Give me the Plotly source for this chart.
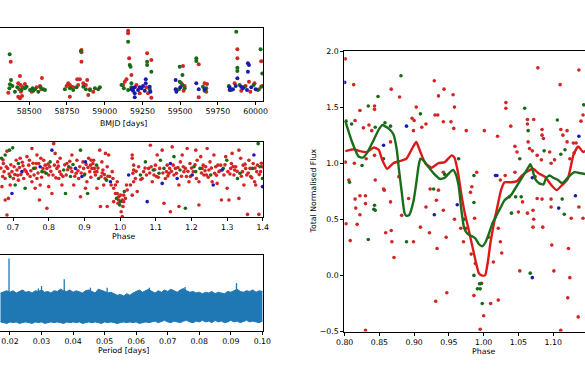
import plotly.graph_objects as go

W, H = 585, 390
RED = '#d42424'
GREEN = '#176b17'
BLUE = '#1a1ab0'
PGRAM = '#1f77b4'
FONT = dict(family='DejaVu Sans', size=7.8, color='black')

# ---------------- top panel: flux vs BMJD (day, flux) ----------------
TOP_RED = [(58377, 4.35), (58438, 2.58), (58584, 2.34), (58361, 0.53), (58427, 1.68), (58443, 1.47),
           (58456, 1.19), (58434, 0.94), (58445, 0.65), (58427, 0.03), (58438, -0.17), (58452, 0.12),
           (58471, 1.60), (58516, 0.65), (58549, 1.19), (58571, 1.35), (58582, 0.94), (58846, 5.79),
           (58846, 5.50), (58846, 4.35), (58818, 2.17), (58835, 2.17), (58884, 2.09), (58758, 1.68),
           (58769, 1.47), (58747, 1.35), (58780, 1.27), (58791, 1.19), (58824, 1.47), (58858, 1.68),
           (58875, 1.47), (58902, 0.94), (58769, 0.03), (58891, 0.24), (58924, 0.65), (59155, 8.17),
           (59155, 7.84), (59162, 4.76), (59133, 1.88), (59144, 2.17), (59122, 1.47), (59177, 2.71),
           (59281, 5.38), (59309, 4.56), (59309, -0.09), (59210, 1.47), (59232, 0.45), (59276, 1.19),
           (59287, 0.45), (59519, 3.82), (59508, 1.68), (59530, 1.35), (59523, 0.77), (59623, 4.02),
           (59623, -0.05), (59662, 1.68), (59678, 1.60), (59673, 0.65), (59879, 5.87), (59879, 4.76),
           (59861, 1.68), (59905, 0.77), (59934, 1.35), (59965, 0.65), (59993, 1.68), (60022, 0.94),
           (60044, 1.35), (59956, 1.88), (60037, 4.40)]
TOP_GREEN = [(58370, 5.25), (58379, 2.09), (58372, 1.56), (58388, 1.35), (58368, 1.06), (58405, 0.65),
             (58421, 1.19), (58449, 0.86), (58471, 1.06), (58482, 1.27), (58505, 0.86), (58522, 1.06),
             (58527, 0.77), (58538, 0.94), (58560, 0.65), (58575, 1.19), (58593, 0.94), (58604, 0.86),
             (58842, 5.67), (58736, 0.94), (58769, 1.06), (58791, 0.86), (58813, 1.19), (58858, 1.27),
             (58875, 0.94), (58902, 0.86), (58935, 1.06), (58957, 0.94), (58968, 1.19), (59155, 6.82),
             (59166, 3.94), (59171, 3.73), (59111, 1.47), (59127, 1.06), (59155, 0.86), (59177, 1.19),
             (59281, 4.35), (59281, 3.94), (59309, 3.12), (59177, 1.68), (59298, 0.94), (59497, 3.73),
             (59515, 2.71), (59497, 1.88), (59515, 1.47), (59530, 1.06), (59492, 0.94), (59607, 4.76),
             (59607, 4.43), (59651, 1.27), (59673, 1.06), (59662, 0.77), (59872, 8.05), (59879, 3.61),
             (59879, 3.20), (60033, 5.87), (59823, 1.35), (59839, 0.86), (59894, 1.47), (59927, 1.27),
             (59987, 1.47), (60015, 0.86), (60037, 1.27), (60044, 2.90)]
TOP_BLUE = [(59199, -0.05), (59177, 0.94), (59188, 1.06), (59199, 1.19), (59221, 0.86), (59243, 1.06),
            (59254, 1.35), (59265, 0.77), (59272, 2.17), (59272, 1.68), (59232, 1.19), (59199, 0.45),
            (59188, 0.77), (59298, 1.27), (59303, 0.65), (59470, 2.09), (59470, 0.94), (59475, 0.65),
            (59501, 1.19), (59607, 1.68), (59623, 0.94), (59662, 0.94), (59879, 2.29), (59949, 4.14),
            (59956, 3.94), (59949, 3.12), (59828, 1.19), (59850, 0.94), (59868, 1.35), (59916, 1.06),
            (59943, 0.86), (59971, 1.19), (60000, 0.94), (59905, 1.27), (59828, 0.86)]
TOP_TICKS = [58500, 58750, 59000, 59250, 59500, 59750, 60000]

# ---------------- middle panel: flux vs phase (phase, flux) ----------------
MID_RED = [(0.683, 1.72), (0.673, 1.34), (0.685, 1.19), (0.697, 1.09), (0.671, 0.94), (0.678, 0.88),
           (0.701, 0.88), (0.711, 1.14), (0.720, 1.50), (0.715, 0.83), (0.692, 0.68), (0.687, 0.27),
           (0.678, 0.22), (0.669, 0.63), (0.683, -0.24), (0.730, 0.88), (0.739, 1.55), (0.744, 1.29),
           (0.748, 0.94), (0.753, 1.80), (0.753, 0.78), (0.767, 1.60), (0.772, 1.34), (0.767, 0.88),
           (0.762, 0.58), (0.774, 0.22), (0.776, 0.68), (0.786, 1.44), (0.790, 1.29), (0.795, 1.19),
           (0.800, 0.99), (0.814, 1.95), (0.818, 1.65), (0.800, 0.63), (0.809, 0.42), (0.795, -0.03),
           (0.823, 1.19), (0.828, 0.88), (0.832, 1.50), (0.837, 0.68), (0.851, 1.34), (0.865, 1.60),
           (0.865, 1.09), (0.870, 0.68), (0.879, 1.44), (0.884, 0.88), (0.889, 0.32), (0.898, 1.19),
           (0.903, 0.58), (0.907, 0.78), (0.912, 1.50), (0.917, 1.29), (0.921, 1.19), (0.926, 1.44),
           (0.931, 0.99), (0.935, 0.58), (0.935, 1.09), (0.943, 1.75), (0.945, 0.02), (0.949, 1.39),
           (0.954, 0.68), (0.959, 1.65), (0.964, 1.24), (0.964, 0.02), (0.968, 1.60), (0.978, 1.09),
           (0.982, 0.58), (0.987, 0.42), (0.992, 0.78), (0.996, 0.22), (1.001, 0.37), (1.003, -0.14),
           (1.006, -0.29), (1.010, 0.17), (1.015, 0.27), (1.020, 0.53), (1.029, 0.68), (1.034, 1.50),
           (1.038, 0.78), (1.038, 1.14), (0.992, 0.42), (0.996, 0.32), (1.006, 0.22), (0.994, 0.12),
           (0.987, 0.68), (0.982, 0.17), (1.010, 0.37), (1.018, 0.68), (1.008, 0.02), (0.675, 1.09),
           (0.681, 1.24), (0.703, 1.24), (0.709, 1.44), (0.722, 1.00), (0.728, 1.27), (0.737, 1.09),
           (0.746, 1.44), (0.759, 0.99), (0.765, 1.34), (0.778, 1.50), (0.784, 1.19), (0.803, 1.24),
           (0.812, 0.99), (0.816, 1.29), (0.825, 1.39), (0.831, 1.09), (0.840, 0.94), (0.849, 0.99),
           (0.859, 1.41), (0.877, 1.04), (0.887, 1.24), (0.896, 1.39), (0.905, 1.31), (0.915, 1.09),
           (0.919, 1.44), (0.924, 1.34), (0.928, 1.19), (0.947, 0.94), (0.952, 1.14), (0.956, 1.00),
           (0.971, 0.94), (0.975, 0.68), (0.980, 0.88),
           (1.034, 1.60), (1.038, 1.29), (1.043, 0.88), (1.048, 0.48), (1.034, 0.37), (1.066, 1.09),
           (1.080, 1.19), (1.085, 1.90), (1.090, 0.78), (1.095, 0.99), (1.099, 1.29), (1.104, 1.60),
           (1.118, 1.75), (1.123, 0.12), (1.127, 0.88), (1.132, 1.29), (1.137, 1.04), (1.141, -0.14),
           (1.146, 1.85), (1.151, 0.99), (1.155, 1.19), (1.165, 0.68), (1.165, 0.02), (1.169, 1.39),
           (1.174, 1.60), (1.179, 1.09), (1.183, 1.19), (1.188, 1.80), (1.193, 0.78), (1.197, 0.94),
           (1.212, 1.75), (1.216, 1.44), (1.221, 0.07), (1.221, 0.78), (1.226, 1.55), (1.230, 1.19),
           (1.235, 0.99), (1.240, 1.24), (1.244, 1.80), (1.249, 1.14), (1.258, 0.78), (1.263, 1.60),
           (1.268, 1.24), (1.272, 0.73), (1.277, 1.09), (1.282, 1.29), (1.284, 0.22), (1.291, 0.99),
           (1.296, 1.55), (1.300, 0.58), (1.305, 0.22), (1.310, 1.19), (1.314, 1.65), (1.319, 0.99),
           (1.324, 1.24), (1.333, 1.75), (1.333, 0.27), (1.338, 1.50), (1.343, 1.09), (1.347, 0.68),
           (1.352, 1.19), (1.357, -0.22), (1.361, 1.44), (1.366, 0.94), (1.377, 0.78), (1.380, 0.68),
           (1.385, 1.29), (1.389, -0.22), (1.394, 1.09), (1.398, 1.24), (1.036, 1.04), (1.052, 1.24),
           (1.062, 0.88), (1.074, 0.99), (1.087, 1.24), (1.102, 0.94), (1.111, 1.19), (1.130, 1.09),
           (1.139, 1.19), (1.149, 1.29), (1.158, 1.04), (1.177, 1.24), (1.186, 0.94), (1.196, 1.34),
           (1.205, 1.09), (1.214, 0.88), (1.233, 1.29), (1.242, 0.99), (1.252, 1.39), (1.265, 1.04),
           (1.274, 1.29), (1.302, 1.09), (1.312, 1.34), (1.321, 1.14), (1.345, 1.29), (1.355, 0.99),
           (1.364, 1.19), (1.373, 1.34), (1.383, 1.09)]
MID_RED_BAND = [(0.666, 1.20), (0.672, 1.45), (0.689, 1.02), (0.694, 1.30), (0.705, 1.00), (0.713, 0.98),
                (0.718, 1.22), (0.726, 1.38), (0.733, 1.15), (0.741, 1.02), (0.750, 1.12), (0.756, 1.35),
                (0.763, 1.20), (0.770, 1.05), (0.780, 0.92), (0.788, 1.08), (0.798, 1.32), (0.806, 1.10),
                (0.820, 0.90), (0.827, 1.26), (0.835, 1.00), (0.845, 1.30), (0.853, 1.15), (0.862, 1.20),
                (0.873, 0.95), (0.882, 1.12), (0.891, 1.05), (0.901, 1.02), (0.910, 1.22), (0.918, 0.92),
                (0.929, 1.08), (0.938, 1.20), (0.950, 1.05), (0.958, 0.88), (0.966, 0.95), (1.045, 1.10),
                (1.058, 0.85), (1.070, 1.20), (1.083, 1.05), (1.097, 1.15), (1.107, 0.92), (1.120, 1.05),
                (1.134, 0.96), (1.144, 1.10), (1.162, 1.22), (1.172, 0.95), (1.190, 1.10), (1.200, 1.20),
                (1.210, 1.30), (1.228, 1.05), (1.238, 1.12), (1.247, 0.92), (1.256, 1.20), (1.270, 0.98),
                (1.280, 1.12), (1.294, 1.30), (1.308, 1.02), (1.317, 1.25), (1.328, 1.10), (1.340, 0.95),
                (1.350, 1.32), (1.359, 1.05), (1.369, 0.90), (1.378, 1.20), (1.390, 1.00), (1.396, 1.35)]
MID_GREEN = [(0.668, 1.50), (0.678, 1.60), (0.690, 1.75), (0.699, 1.82), (0.692, 0.94), (0.715, 1.34),
             (0.706, 0.68), (0.734, 0.58), (0.758, 1.19), (0.781, 1.09), (0.804, 1.39), (0.842, 1.14),
             (0.847, 0.42), (0.856, 1.24), (0.861, 0.94), (0.889, 1.75), (0.909, 0.42), (0.940, 0.88),
             (0.990, 0.27), (0.999, 0.07), (1.001, 0.17), (1.012, 0.48), (0.793, 1.04), (0.868, 1.31),
             (0.900, 0.99), (0.934, 1.29), (0.962, 0.83), (1.057, 0.99), (1.071, 1.39), (1.109, 1.04),
             (1.113, 1.44), (1.123, 1.19), (1.151, 1.55), (1.183, -0.03), (1.207, 1.24), (1.212, 1.09),
             (1.254, 0.99), (1.299, 1.44), (1.329, 0.88), (1.371, 1.19), (1.387, 1.95), (1.399, 0.88),
             (1.093, 1.14), (1.168, 1.14), (1.224, 1.19), (1.289, 1.19), (1.336, 1.04), (1.392, 1.24)]
MID_BLUE = [(0.725, 1.09), (0.697, 0.42), (0.776, 1.24), (0.809, 1.75), (0.875, 1.19), (0.893, 0.94),
            (0.903, 1.39), (0.973, 0.78), (1.024, 0.99), (1.076, 0.17), (1.118, 0.73), (1.141, 1.34),
            (1.160, 0.88), (1.202, 0.99), (1.261, 0.68), (1.286, 1.14), (1.375, 1.60), (1.399, 0.63)]
MID_TICKS = [0.7, 0.8, 0.9, 1.0, 1.1, 1.2, 1.3, 1.4]

# ---------------- bottom panel: periodogram (period, upper, lower) ----------------
PGRAM_BAND = [
    (0.017, 0.50, 0.12), (0.018, 0.52, 0.11), (0.019, 0.53, 0.10), (0.020, 0.51, 0.12), (0.021, 0.53, 0.11),
    (0.022, 0.50, 0.12), (0.023, 0.52, 0.10), (0.024, 0.54, 0.11), (0.025, 0.51, 0.12), (0.026, 0.52, 0.11),
    (0.027, 0.50, 0.10), (0.028, 0.53, 0.12), (0.029, 0.52, 0.11), (0.030, 0.54, 0.12), (0.031, 0.51, 0.10),
    (0.032, 0.52, 0.11), (0.033, 0.50, 0.12), (0.034, 0.53, 0.11), (0.035, 0.52, 0.12), (0.036, 0.55, 0.11),
    (0.037, 0.53, 0.10), (0.038, 0.52, 0.12), (0.039, 0.54, 0.11), (0.040, 0.51, 0.12), (0.041, 0.53, 0.11),
    (0.042, 0.52, 0.12), (0.043, 0.50, 0.10), (0.044, 0.53, 0.11), (0.045, 0.54, 0.12), (0.046, 0.52, 0.11),
    (0.047, 0.50, 0.12), (0.048, 0.55, 0.11), (0.049, 0.54, 0.10), (0.050, 0.52, 0.12), (0.051, 0.50, 0.11),
    (0.052, 0.51, 0.12), (0.053, 0.49, 0.11), (0.054, 0.47, 0.10), (0.055, 0.48, 0.11), (0.056, 0.46, 0.12),
    (0.057, 0.49, 0.11), (0.058, 0.47, 0.12), (0.059, 0.50, 0.11), (0.060, 0.52, 0.12), (0.061, 0.54, 0.10),
    (0.062, 0.51, 0.11), (0.063, 0.53, 0.12), (0.064, 0.55, 0.11), (0.065, 0.52, 0.12), (0.066, 0.50, 0.13),
    (0.067, 0.53, 0.11), (0.068, 0.51, 0.12), (0.069, 0.54, 0.14), (0.070, 0.52, 0.12), (0.071, 0.55, 0.11),
    (0.072, 0.53, 0.13), (0.073, 0.51, 0.12), (0.074, 0.54, 0.11), (0.075, 0.56, 0.13), (0.076, 0.53, 0.14),
    (0.077, 0.51, 0.12), (0.078, 0.52, 0.11), (0.079, 0.50, 0.13), (0.080, 0.51, 0.12), (0.081, 0.49, 0.14),
    (0.082, 0.51, 0.12), (0.083, 0.50, 0.13), (0.084, 0.52, 0.11), (0.085, 0.49, 0.14), (0.086, 0.51, 0.12),
    (0.087, 0.50, 0.13), (0.088, 0.49, 0.11), (0.089, 0.52, 0.12), (0.090, 0.51, 0.14), (0.091, 0.53, 0.12),
    (0.092, 0.55, 0.13), (0.093, 0.52, 0.11), (0.094, 0.51, 0.12), (0.095, 0.53, 0.14), (0.096, 0.52, 0.12),
    (0.097, 0.54, 0.13), (0.098, 0.51, 0.12), (0.099, 0.53, 0.11), (0.100, 0.52, 0.13)]
PGRAM_SPIKES = [(0.0197, 0.955), (0.0290, 0.56), (0.0300, 0.59), (0.0372, 0.68), (0.0455, 0.57),
                (0.0508, 0.57), (0.0642, 0.57), (0.0755, 0.58), (0.0918, 0.63)]
PGRAM_TICKS = [0.02, 0.03, 0.04, 0.05, 0.06, 0.07, 0.08, 0.09, 0.10]

# ---------------- right panel: total normalised flux vs phase ----------------
R_RED = [(0.801, 1.93), (0.813, 1.70), (0.822, 1.47), (0.827, 1.315), (0.843, 1.51), (0.843, 1.48),
         (0.867, 1.66), (0.879, 1.59), (0.815, 1.38), (0.835, 1.34), (0.839, 1.29), (0.897, 1.40),
         (0.900, 1.38), (0.903, 1.50), (0.911, 1.32), (0.917, 1.35), (0.929, 1.735), (0.935, 1.60),
         (0.943, 1.66), (0.956, 1.61), (0.958, 1.50), (0.930, 1.43), (0.934, 1.43), (0.942, 1.37),
         (0.953, 1.37), (0.957, 1.31), (0.801, 1.01), (0.814, 1.00), (0.831, 1.04), (0.843, 1.07),
         (0.866, 1.19), (0.806, 0.85), (0.815, 0.68), (0.822, 0.71), (0.830, 0.64), (0.844, 0.85),
         (0.856, 0.77), (0.857, 0.76), (0.802, 0.46), (0.808, 0.31), (0.818, 0.455), (0.859, 0.38),
         (0.867, 0.40), (0.868, 0.30), (0.871, 0.16), (0.866, 0.655), (0.878, 0.88), (0.882, 0.535),
         (0.892, 0.685), (0.899, 0.30), (0.909, 0.43), (0.917, 0.61), (0.922, 0.38), (0.932, 0.67),
         (0.933, 0.24), (0.931, -0.23), (0.942, 0.58), (0.946, 0.34), (0.947, -0.155), (0.958, 0.50),
         (0.967, 0.42), (0.971, 0.30), (0.923, 0.77), (0.935, 0.76), (0.942, 0.92), (0.830, -0.49),
         (0.899, 1.29), (0.816, 0.60), (0.822, 0.54), (0.830, 0.71),
         (1.078, 1.85), (1.137, 1.83), (1.110, 1.70), (1.032, 1.54), (1.032, 1.49), (1.063, 1.39),
         (1.063, 1.35), (1.072, 1.39), (1.039, 1.33), (0.975, 1.29), (1.001, 1.29), (1.020, 1.24),
         (1.084, 1.30), (1.084, 1.25), (1.086, 1.22), (1.111, 1.30), (1.120, 1.29), (1.114, 1.25),
         (1.120, 1.19), (1.129, 1.18), (1.133, 1.18), (1.140, 1.375), (1.143, 1.43), (1.064, 1.19),
         (1.066, 1.13), (1.070, 1.11), (1.077, 1.07), (1.083, 1.03), (1.095, 1.10), (1.097, 1.00),
         (1.102, 1.03), (1.124, 1.04), (1.130, 1.09), (1.045, 1.15), (1.048, 1.10), (1.024, 0.85),
         (1.031, 0.89), (1.045, 0.92), (0.990, 0.92), (0.983, 0.79), (0.981, 0.74), (0.987, 0.51),
         (1.074, 0.88), (1.037, 0.70), (1.050, 0.565), (1.056, 0.655), (1.063, 0.555), (1.071, 0.58),
         (1.077, 0.685), (1.072, 0.50), (1.071, 0.43), (1.085, 0.43), (1.084, 0.68), (1.097, 0.61),
         (1.097, 0.68), (1.126, 0.51), (1.137, 0.61), (1.021, 0.42), (1.024, 0.30), (1.026, 0.20),
         (1.017, 0.52), (1.014, 0.12), (0.975, 0.42), (0.982, 0.19), (0.988, 0.105), (0.986, -0.18),
         (1.000, -0.36), (0.995, -0.48), (1.010, -0.25), (1.021, -0.22), (0.997, -0.07), (1.007, 0.34),
         (1.098, 0.27), (1.052, 0.04), (1.101, 0.04), (1.124, -0.02), (1.121, -0.20), (1.136, -0.37),
         (1.111, -0.49), (1.122, 0.24), (1.143, 0.51)]
R_GREEN = [(0.802, 1.375), (0.834, 1.51), (0.848, 1.595), (0.881, 1.78), (0.844, 1.32), (0.858, 1.36),
           (0.866, 1.33), (0.909, 1.44), (0.825, 0.98), (0.856, 1.04), (0.807, 0.83), (0.843, 0.625),
           (0.834, 0.32), (0.842, 0.59), (0.889, 0.30), (0.928, 0.77), (0.944, 0.90), (0.964, 1.04),
           (0.810, 1.35), (0.844, 0.58), (1.059, 1.49), (1.064, 1.29), (1.106, 1.385), (1.087, 1.11),
           (1.111, 1.08), (1.117, 1.12), (1.052, 1.04), (0.986, 0.89), (0.986, 0.65), (1.046, 0.70),
           (1.054, 0.70), (1.040, 0.555), (1.113, 0.68), (1.116, 0.545), (0.986, 0.0), (0.994, -0.075),
           (0.996, -0.075), (0.991, -0.12), (0.995, -0.12), (0.998, -0.25), (1.067, 0.02), (0.972, 0.50),
           (1.144, 1.52)]
R_BLUE = [(0.800, 1.72), (0.856, 1.16), (0.889, 1.33), (0.929, 0.54), (0.962, 0.63), (1.017, 0.89),
          (1.019, 0.89), (1.070, 0.87), (1.108, 0.60), (1.132, 0.71), (1.137, 1.24), (1.070, -0.02)]
R_RED_LINE = [(0.801, 1.107), (0.813, 1.125), (0.822, 1.107), (0.832, 1.10), (0.842, 1.14), (0.849, 1.12),
              (0.854, 1.03), (0.861, 0.95), (0.870, 1.00), (0.880, 1.02), (0.889, 1.04), (0.897, 1.13),
              (0.903, 1.19), (0.909, 1.10), (0.916, 1.00), (0.925, 0.96), (0.935, 1.00), (0.944, 1.01),
              (0.954, 1.07), (0.958, 1.05), (0.963, 0.92), (0.968, 0.72), (0.973, 0.55), (0.978, 0.42),
              (0.983, 0.28), (0.988, 0.14), (0.993, 0.02), (0.997, 0.0), (1.002, 0.0), (1.006, 0.12),
              (1.010, 0.30), (1.015, 0.47), (1.020, 0.62), (1.025, 0.76), (1.030, 0.83), (1.040, 0.83),
              (1.048, 0.84), (1.055, 0.89), (1.064, 0.93), (1.071, 0.95), (1.079, 0.91), (1.088, 0.88),
              (1.098, 0.80), (1.105, 0.76), (1.112, 0.80), (1.121, 0.86), (1.129, 1.07), (1.136, 1.15),
              (1.143, 1.10), (1.150, 1.12)]
R_GREEN_LINE = [(0.801, 1.375), (0.810, 1.20), (0.820, 1.06), (0.826, 1.05), (0.832, 1.09), (0.842, 1.21),
                (0.849, 1.30), (0.854, 1.34), (0.863, 1.31), (0.870, 1.26), (0.875, 1.12), (0.878, 0.95),
                (0.882, 0.75), (0.886, 0.56), (0.889, 0.53), (0.893, 0.54), (0.899, 0.66), (0.903, 0.82),
                (0.906, 0.96), (0.909, 1.04), (0.914, 1.02), (0.920, 0.97), (0.928, 0.91), (0.937, 0.86),
                (0.944, 0.87), (0.950, 0.91), (0.956, 0.94), (0.960, 0.90), (0.964, 0.80), (0.968, 0.58),
                (0.972, 0.42), (0.977, 0.37), (0.983, 0.35), (0.988, 0.33), (0.993, 0.28), (0.998, 0.26),
                (1.003, 0.30), (1.008, 0.38), (1.013, 0.47), (1.018, 0.53), (1.024, 0.60), (1.030, 0.67),
                (1.036, 0.70), (1.040, 0.72), (1.045, 0.77), (1.052, 0.84), (1.058, 0.90), (1.064, 0.96),
                (1.067, 0.99), (1.070, 0.95), (1.074, 0.86), (1.080, 0.82), (1.086, 0.81), (1.090, 0.87),
                (1.095, 0.89), (1.100, 0.87), (1.107, 0.85), (1.113, 0.82), (1.118, 0.85), (1.124, 0.89),
                (1.131, 0.92), (1.140, 0.91), (1.150, 0.90)]
R_XTICKS = [0.80, 0.85, 0.90, 0.95, 1.00, 1.05, 1.10, 1.15]
R_YTICKS = [-0.5, 0.0, 0.5, 1.0, 1.5, 2.0]


def cols(pairs):
    return [p[0] for p in pairs], [p[1] for p in pairs]


fig = go.Figure()


def scatter(pairs, col, size, xa, ya):
    x, y = cols(pairs)
    fig.add_trace(go.Scatter(x=x, y=y, mode='markers', xaxis=xa, yaxis=ya,
                             marker=dict(color=col, size=size, line=dict(width=0)),
                             showlegend=False, hoverinfo='skip'))


for pts, c in ((TOP_RED, RED), (TOP_GREEN, GREEN), (TOP_BLUE, BLUE)):
    scatter(pts, c, 4, 'x', 'y')
for pts, c in ((MID_RED + MID_RED_BAND, RED), (MID_GREEN, GREEN), (MID_BLUE, BLUE)):
    scatter(pts, c, 3.6, 'x2', 'y2')

# periodogram band
per = [b[0] for b in PGRAM_BAND]
up = [b[1] for b in PGRAM_BAND]
lo = [b[2] for b in PGRAM_BAND]
fig.add_trace(go.Scatter(x=per, y=lo, mode='lines', line=dict(color=PGRAM, width=1),
                         xaxis='x3', yaxis='y3', showlegend=False, hoverinfo='skip'))
fig.add_trace(go.Scatter(x=per, y=up, mode='lines', line=dict(color=PGRAM, width=1),
                         fill='tonexty', fillcolor=PGRAM,
                         xaxis='x3', yaxis='y3', showlegend=False, hoverinfo='skip'))
sx, sy = [], []
for p, v in PGRAM_SPIKES:
    sx += [p, p, None]
    sy += [0.45, v, None]
fig.add_trace(go.Scatter(x=sx, y=sy, mode='lines', line=dict(color=PGRAM, width=1.3),
                         xaxis='x3', yaxis='y3', showlegend=False, hoverinfo='skip'))

for pts, c in ((R_RED, RED), (R_GREEN, GREEN), (R_BLUE, BLUE)):
    scatter(pts, c, 3.6, 'x4', 'y4')
for pts, c in ((R_RED_LINE, '#dd1a1a'), (R_GREEN_LINE, '#1a6e1a')):
    x, y = cols(pts)
    fig.add_trace(go.Scatter(x=x, y=y, mode='lines', line=dict(color=c, width=2.4, shape='spline', smoothing=0.5),
                             xaxis='x4', yaxis='y4', showlegend=False, hoverinfo='skip'))

LEFT_DOM = [0, 263 / W]
common_x = dict(showline=True, linecolor='black', linewidth=1, mirror=True, ticks='outside', ticklen=3,
                tickcolor='black', tickwidth=1, showgrid=False, zeroline=False, tickfont=FONT,
                automargin=False)
left_y = dict(showline=True, linecolor='black', linewidth=1, side='right', ticks='', showticklabels=False,
              showgrid=False, zeroline=False, automargin=False)


def ydom(top, bot):
    return [1 - bot / H, 1 - top / H]


fig.update_layout(
    width=W, height=H, margin=dict(l=0, r=0, t=0, b=0, pad=0, autoexpand=False),
    paper_bgcolor='white', plot_bgcolor='white', font=FONT,
    xaxis=dict(domain=LEFT_DOM, range=[58306, 60049], tickvals=TOP_TICKS,
               ticktext=[str(t) for t in TOP_TICKS], anchor='y', **common_x),
    yaxis=dict(domain=ydom(28, 101), range=[-0.5, 8.5], anchor='x', **left_y),
    xaxis2=dict(domain=LEFT_DOM, range=[0.6635, 1.4005], tickvals=MID_TICKS,
                ticktext=['%.1f' % t for t in MID_TICKS], anchor='y2', **common_x),
    yaxis2=dict(domain=ydom(142, 217), range=[-0.3, 2.0], anchor='x2', **left_y),
    xaxis3=dict(domain=LEFT_DOM, range=[0.01684, 0.1002], tickvals=PGRAM_TICKS,
                ticktext=['%.2f' % t for t in PGRAM_TICKS], anchor='y3', **common_x),
    yaxis3=dict(domain=ydom(255, 331), range=[0, 1], anchor='x3', **left_y),
    xaxis4=dict(domain=[344.3 / W, 1], range=[0.7995, 1.1458], tickvals=R_XTICKS,
                ticktext=['%.2f' % t for t in R_XTICKS], anchor='y4', **common_x),
    yaxis4=dict(domain=ydom(51, 331.5), range=[-0.5, 2.0], tickvals=R_YTICKS,
                ticktext=[('\u2212%.1f' % -t) if t < 0 else '%.1f' % t for t in R_YTICKS],
                anchor='x4', showline=True, linecolor='black', linewidth=1, ticks='outside', ticklen=3,
                tickcolor='black', showgrid=False, zeroline=False, tickfont=FONT, automargin=False),
)

for text, px, py, ang in (("BMJD [days]", 123, 123, 0), ("Phase", 123, 237, 0),
                          ("Period [days]", 123, 350.5, 0), ("Phase", 483.3, 351, 0),
                          ("Total Normalised Flux", 312.5, 191, -90)):
    fig.add_annotation(text=text, x=px / W, y=1 - py / H, xref='paper', yref='paper',
                       showarrow=False, textangle=ang, font=FONT, xanchor='center', yanchor='middle')

fig.write_html("out.html", config={'displayModeBar': False},
               post_script="document.body.style.margin='0';document.body.style.padding='0';"
                           "document.body.style.overflow='hidden';")
